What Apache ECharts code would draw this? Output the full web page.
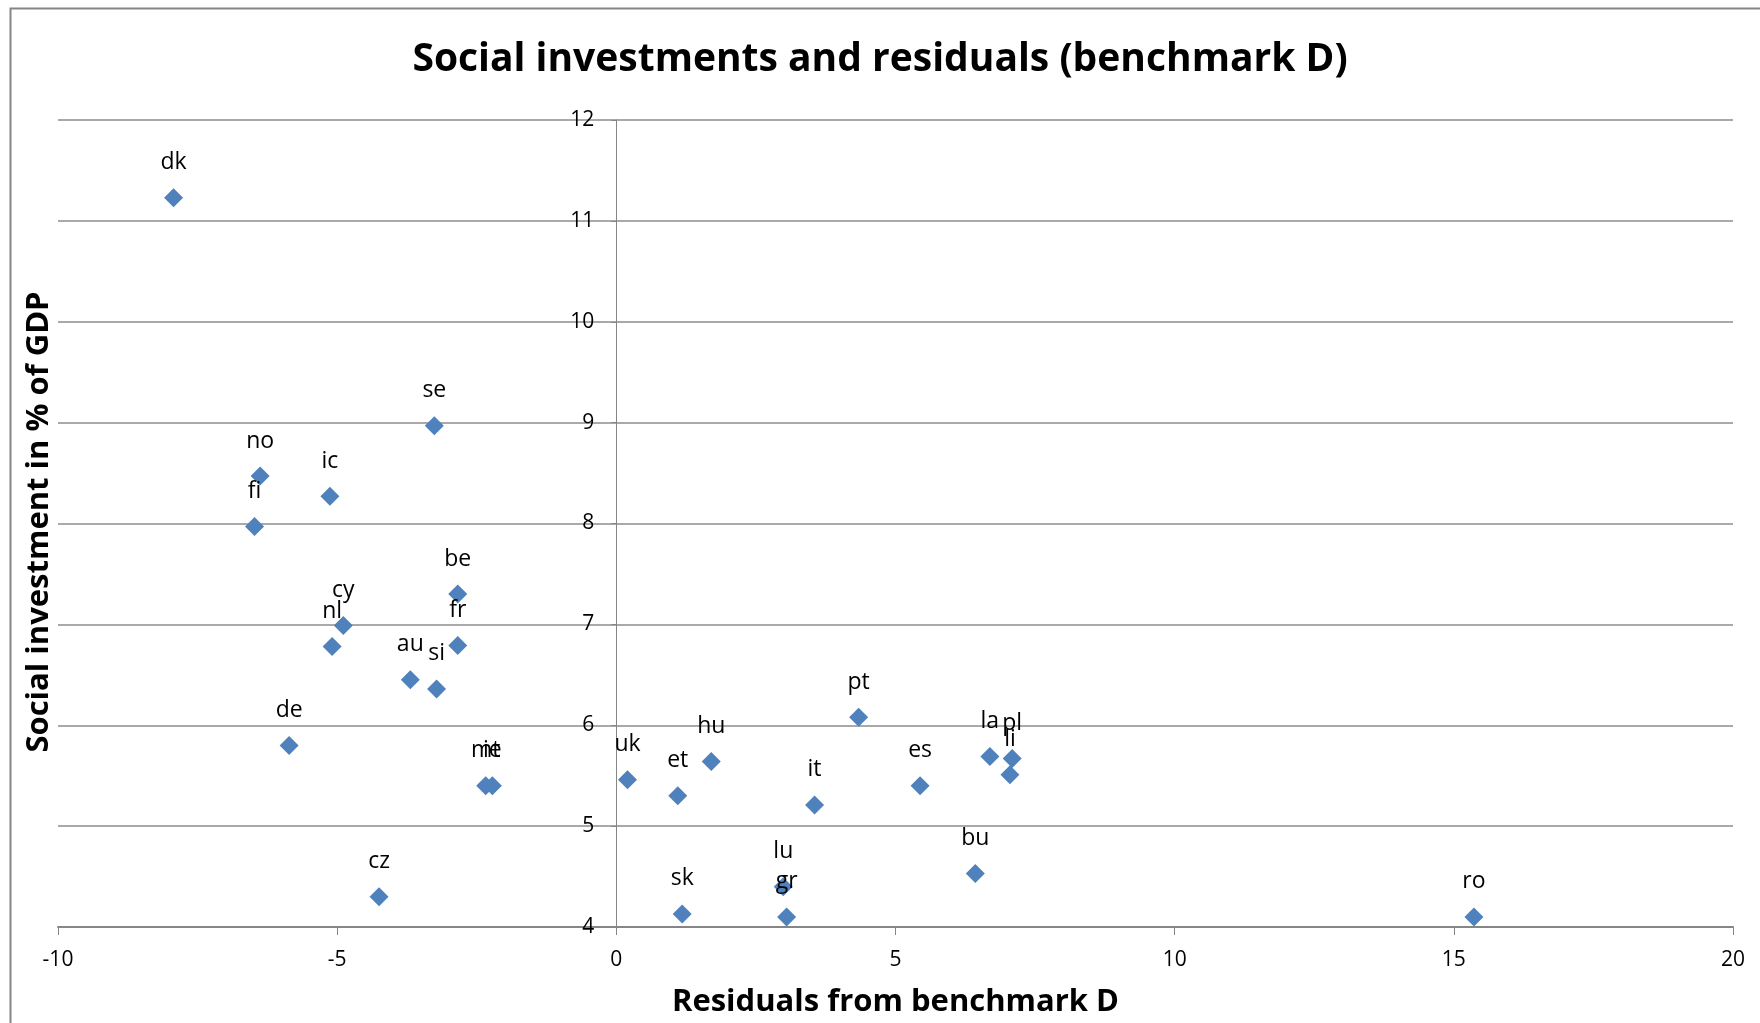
<!DOCTYPE html>
<html>
<head>
<meta charset="utf-8">
<script src="https://cdn.jsdelivr.net/npm/echarts@6/dist/echarts.min.js"></script>
<style>html,body{margin:0;padding:0;background:#fff}#c{width:1760px;height:1023px}</style>
</head>
<body>
<div id="c"></div>
<script>
const countries = ['dk','no','fi','ic','se','be','cy','nl','fr','au','si','de','mt','ie','cz','uk','et','hu','sk','lu','gr','it','pt','es','bu','la','pl','li','ro'];
const residuals = [-7.93,-6.38,-6.48,-5.13,-3.26,-2.84,-4.89,-5.09,-2.84,-3.69,-3.22,-5.86,-2.34,-2.22,-4.25,0.2,1.1,1.7,1.18,2.99,3.05,3.55,4.34,5.44,6.43,6.69,7.09,7.05,15.36];
const investment = [11.23,8.47,7.97,8.27,8.97,7.30,6.99,6.78,6.79,6.45,6.36,5.80,5.40,5.40,4.30,5.46,5.30,5.64,4.13,4.40,4.10,5.21,6.08,5.40,4.53,5.69,5.67,5.51,4.10];
const xTicks = {min:-10, max:20, interval:5};
const yTicks = {min:4, max:12, interval:1};

const data = countries.map((c,i)=>({name:c, value:[residuals[i], investment[i]]}));
const font = 'Open Sans';
const W = 1760, gl = 58, gr = 27;
const zeroOffset = -((W-gl-gr) * (0 - xTicks.min) / (xTicks.max - xTicks.min));
const chart = echarts.init(document.getElementById('c'), null, {renderer:'canvas'});
chart.setOption({
  animation:false,
  backgroundColor:'#fff',
  title:{text:'Social investments and residuals (benchmark D)', left:'center', top:35,
    textStyle:{fontFamily:font, fontWeight:'bold', fontSize:39, color:'#000'}},
  grid:{left:gl, right:gr, top:120, bottom:94},
  xAxis:{type:'value', min:xTicks.min, max:xTicks.max, interval:xTicks.interval,
    name:'Residuals from benchmark D', nameLocation:'middle', nameGap:60,
    nameTextStyle:{fontFamily:font, fontWeight:'bold', fontSize:31, color:'#000'},
    axisLine:{onZero:false, lineStyle:{color:'#868686', width:2}},
    axisTick:{show:true, length:8, lineStyle:{color:'#868686', width:1}},
    axisLabel:{fontFamily:font, fontSize:21, color:'#000', margin:23},
    splitLine:{show:false}},
  yAxis:{type:'value', min:yTicks.min, max:yTicks.max, interval:yTicks.interval,
    offset: zeroOffset,
    axisLine:{onZero:false, lineStyle:{color:'#868686', width:1}},
    axisTick:{show:true, length:5, lineStyle:{color:'#868686'}},
    axisLabel:{fontFamily:font, fontSize:21, color:'#000', margin:22},
    splitLine:{show:true, lineStyle:{color:'#8c8c8c', width:1.5}}},
  graphic:[
    {type:'rect', left:8, top:6, shape:{width:1800, height:1100}, style:{fill:'none', stroke:'#868686', lineWidth:2}, z:-1},
    {type:'text', x:39, y:522, rotation:Math.PI/2, style:{text:'Social investment in % of GDP', fontFamily:font, fontWeight:'bold', fontSize:31, fill:'#000', align:'center', verticalAlign:'middle'}}
  ],
  series:[{type:'scatter', symbol:'diamond', symbolSize:19, data:data,
    itemStyle:{color:'#4F81BD', opacity:1},
    label:{show:true, position:'top', distance:14, formatter:p=>p.name, fontFamily:font, fontSize:23, color:'#000'}}]
});
</script>
</body>
</html>
